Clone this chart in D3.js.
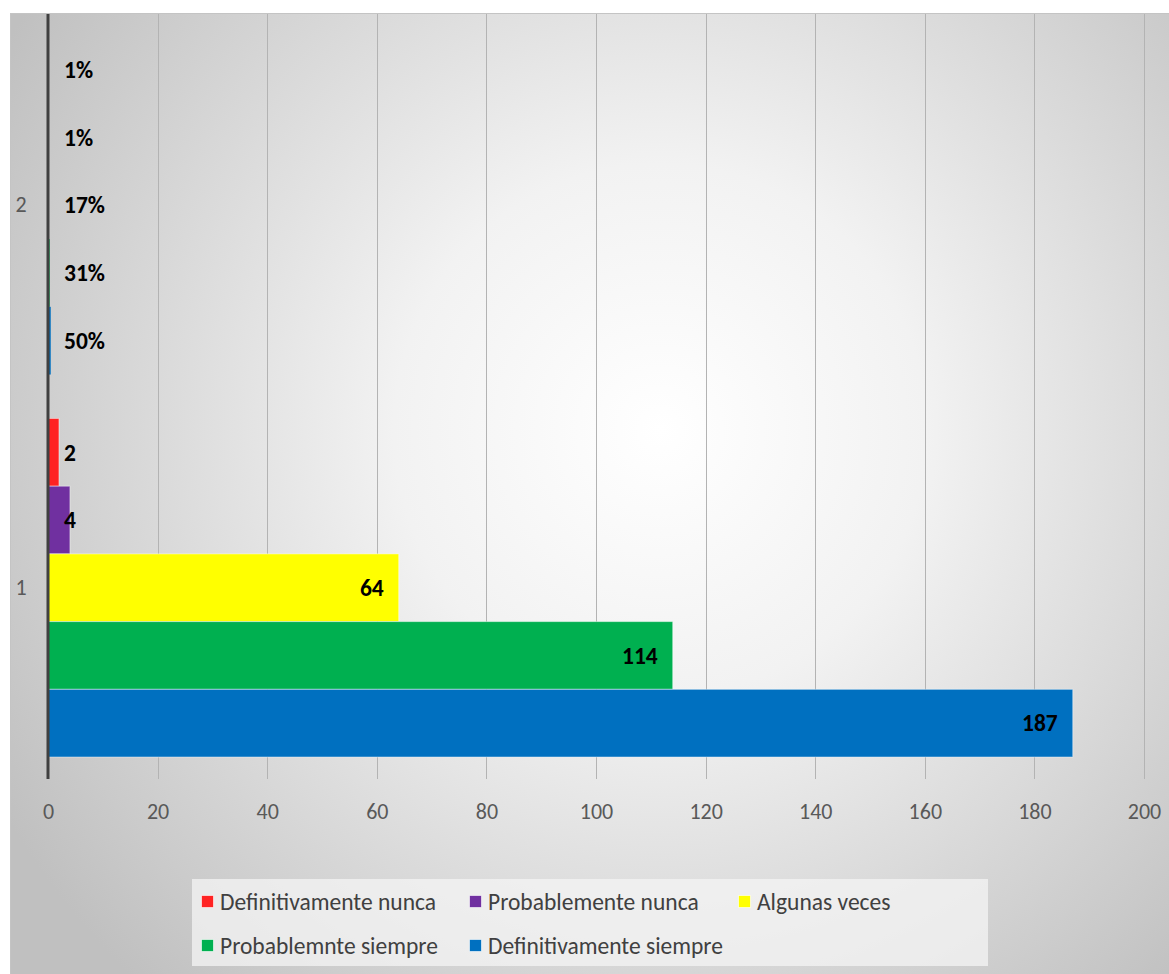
<!DOCTYPE html>
<html><head><meta charset="utf-8">
<script src="https://cdn.jsdelivr.net/npm/d3@7"></script>
<style>
html,body{margin:0;padding:0;background:#fff;}
svg{display:block;}
text{font-family:Carlito, Lato, "Liberation Sans", sans-serif;}
</style></head>
<body>
<svg id="chart" width="1169" height="974"></svg>
<script>
const categories = ["2", "1"];
const seriesNames = ["Definitivamente nunca", "Probablemente nunca", "Algunas veces", "Probablemnte siempre", "Definitivamente siempre"];
const seriesColors = ["#ff2222", "#7030a0", "#ffff00", "#00b050", "#0070c0"];
const valuesCat1 = [2, 4, 64, 114, 187];
const valuesCat2 = [0.01, 0.01, 0.17, 0.31, 0.50];
const labelsCat1 = ["2", "4", "64", "114", "187"];
const labelsCat2 = ["1%", "1%", "17%", "31%", "50%"];
const xTicks = [0, 20, 40, 60, 80, 100, 120, 140, 160, 180, 200];

const svg = d3.select("#chart");
const defs = svg.append("defs");
const rg = defs.append("radialGradient").attr("id", "bg")
  .attr("gradientUnits", "userSpaceOnUse")
  .attr("cx", 660).attr("cy", 430).attr("r", 760);
rg.append("stop").attr("offset", "0%").attr("stop-color", "#ffffff");
rg.append("stop").attr("offset", "35%").attr("stop-color", "#f2f2f2");
rg.append("stop").attr("offset", "100%").attr("stop-color", "#c0c0c0");

svg.append("rect").attr("x", 10.5).attr("y", 13.5).attr("width", 1170).attr("height", 970)
  .attr("fill", "url(#bg)").attr("stroke", "#c4c4c4").attr("stroke-width", 1);

const plot = {left: 48, right: 1144, top: 14, bottom: 779};
const x = d3.scaleLinear().domain([0, 200]).range([plot.left, plot.right]);
const y = d3.scaleBand().domain(categories).range([plot.top, plot.bottom]).padding(0);
const yInner = d3.scaleBand().domain(seriesNames).range([0, y.bandwidth()]).paddingInner(0).paddingOuter(0.3245);
const FONT = "Carlito, Lato, 'Liberation Sans', sans-serif";

// gridlines
svg.append("g").selectAll("line").data(xTicks.slice(1)).join("line")
  .attr("x1", d => Math.round(x(d)) + 0.5).attr("x2", d => Math.round(x(d)) + 0.5)
  .attr("y1", plot.top).attr("y2", plot.bottom)
  .attr("stroke", "#b3b3b3").attr("stroke-width", 1);

// tick labels via axis
const xAxis = d3.axisBottom(x).tickValues(xTicks).tickSize(0).tickPadding(0);
const ax = svg.append("g").attr("transform", `translate(0,${plot.bottom + 23})`).call(xAxis);
ax.select(".domain").remove();
ax.selectAll("text").attr("fill", "#595959").attr("font-size", 22).attr("dy", "0.75em")
  .style("font-family", FONT);

// category labels
const yAxis = d3.axisLeft(y).tickSize(0).tickPadding(0);
const ay = svg.append("g").attr("transform", `translate(21,0)`).call(yAxis);
ay.select(".domain").remove();
ay.selectAll("text").attr("fill", "#595959").attr("font-size", 22).attr("text-anchor", "middle")
  .style("font-family", FONT);

const data = [];
categories.forEach(c => {
  const vals = c === "1" ? valuesCat1 : valuesCat2;
  const labs = c === "1" ? labelsCat1 : labelsCat2;
  seriesNames.forEach((s, i) => data.push({cat: c, series: s, value: vals[i], label: labs[i], color: seriesColors[i]}));
});

const bars = svg.append("g");
bars.selectAll("rect").data(data).join("rect")
  .attr("x", x(0))
  .attr("y", d => y(d.cat) + yInner(d.series))
  .attr("width", d => Math.max(0, x(d.value) - x(0)))
  .attr("height", yInner.bandwidth())
  .attr("fill", d => d.color)
  .attr("stroke", d => (x(d.value) - x(0)) > 3 ? "rgba(255,255,255,0.45)" : "none").attr("stroke-width", 1);

// axis line
svg.append("line").attr("x1", x(0)).attr("x2", x(0)).attr("y1", plot.top).attr("y2", plot.bottom)
  .attr("stroke", "#404040").attr("stroke-width", 3);

// data labels
const lbl = svg.append("g");
lbl.selectAll("text").data(data).join("text")
  .text(d => d.label)
  .attr("font-size", 23.5).attr("font-weight", "bold").attr("fill", "#000")
  .attr("y", d => y(d.cat) + yInner(d.series) + yInner.bandwidth() / 2)
  .attr("dy", "0.35em")
  .each(function(d) {
    const w = this.getComputedTextLength();
    const end = x(d.value) - 15;
    if (end - w >= x(0) + 16) {
      d3.select(this).attr("x", end).attr("text-anchor", "end");
    } else {
      d3.select(this).attr("x", x(0) + 16).attr("text-anchor", "start");
    }
  });

// legend
const lg = svg.append("g");
lg.append("rect").attr("x", 192).attr("y", 879).attr("width", 796).attr("height", 87)
  .attr("fill", "#f4f4f4").attr("fill-opacity", 0.75);
const legendPos = [[201, 902], [469, 902], [738, 902], [201, 946], [469, 946]];
const items = lg.selectAll("g").data(seriesNames).join("g")
  .attr("transform", (d, i) => `translate(${legendPos[i][0]},${legendPos[i][1]})`);
items.append("rect").attr("x", 0.5).attr("y", -6.5).attr("width", 12).attr("height", 12)
  .attr("fill", (d, i) => seriesColors[i]).attr("stroke", "rgba(255,255,255,0.6)");
items.append("text").attr("x", 19).attr("dy", "0.35em").text(d => d)
  .attr("font-size", 23.5).attr("fill", "#404040");
</script>
</body></html>
